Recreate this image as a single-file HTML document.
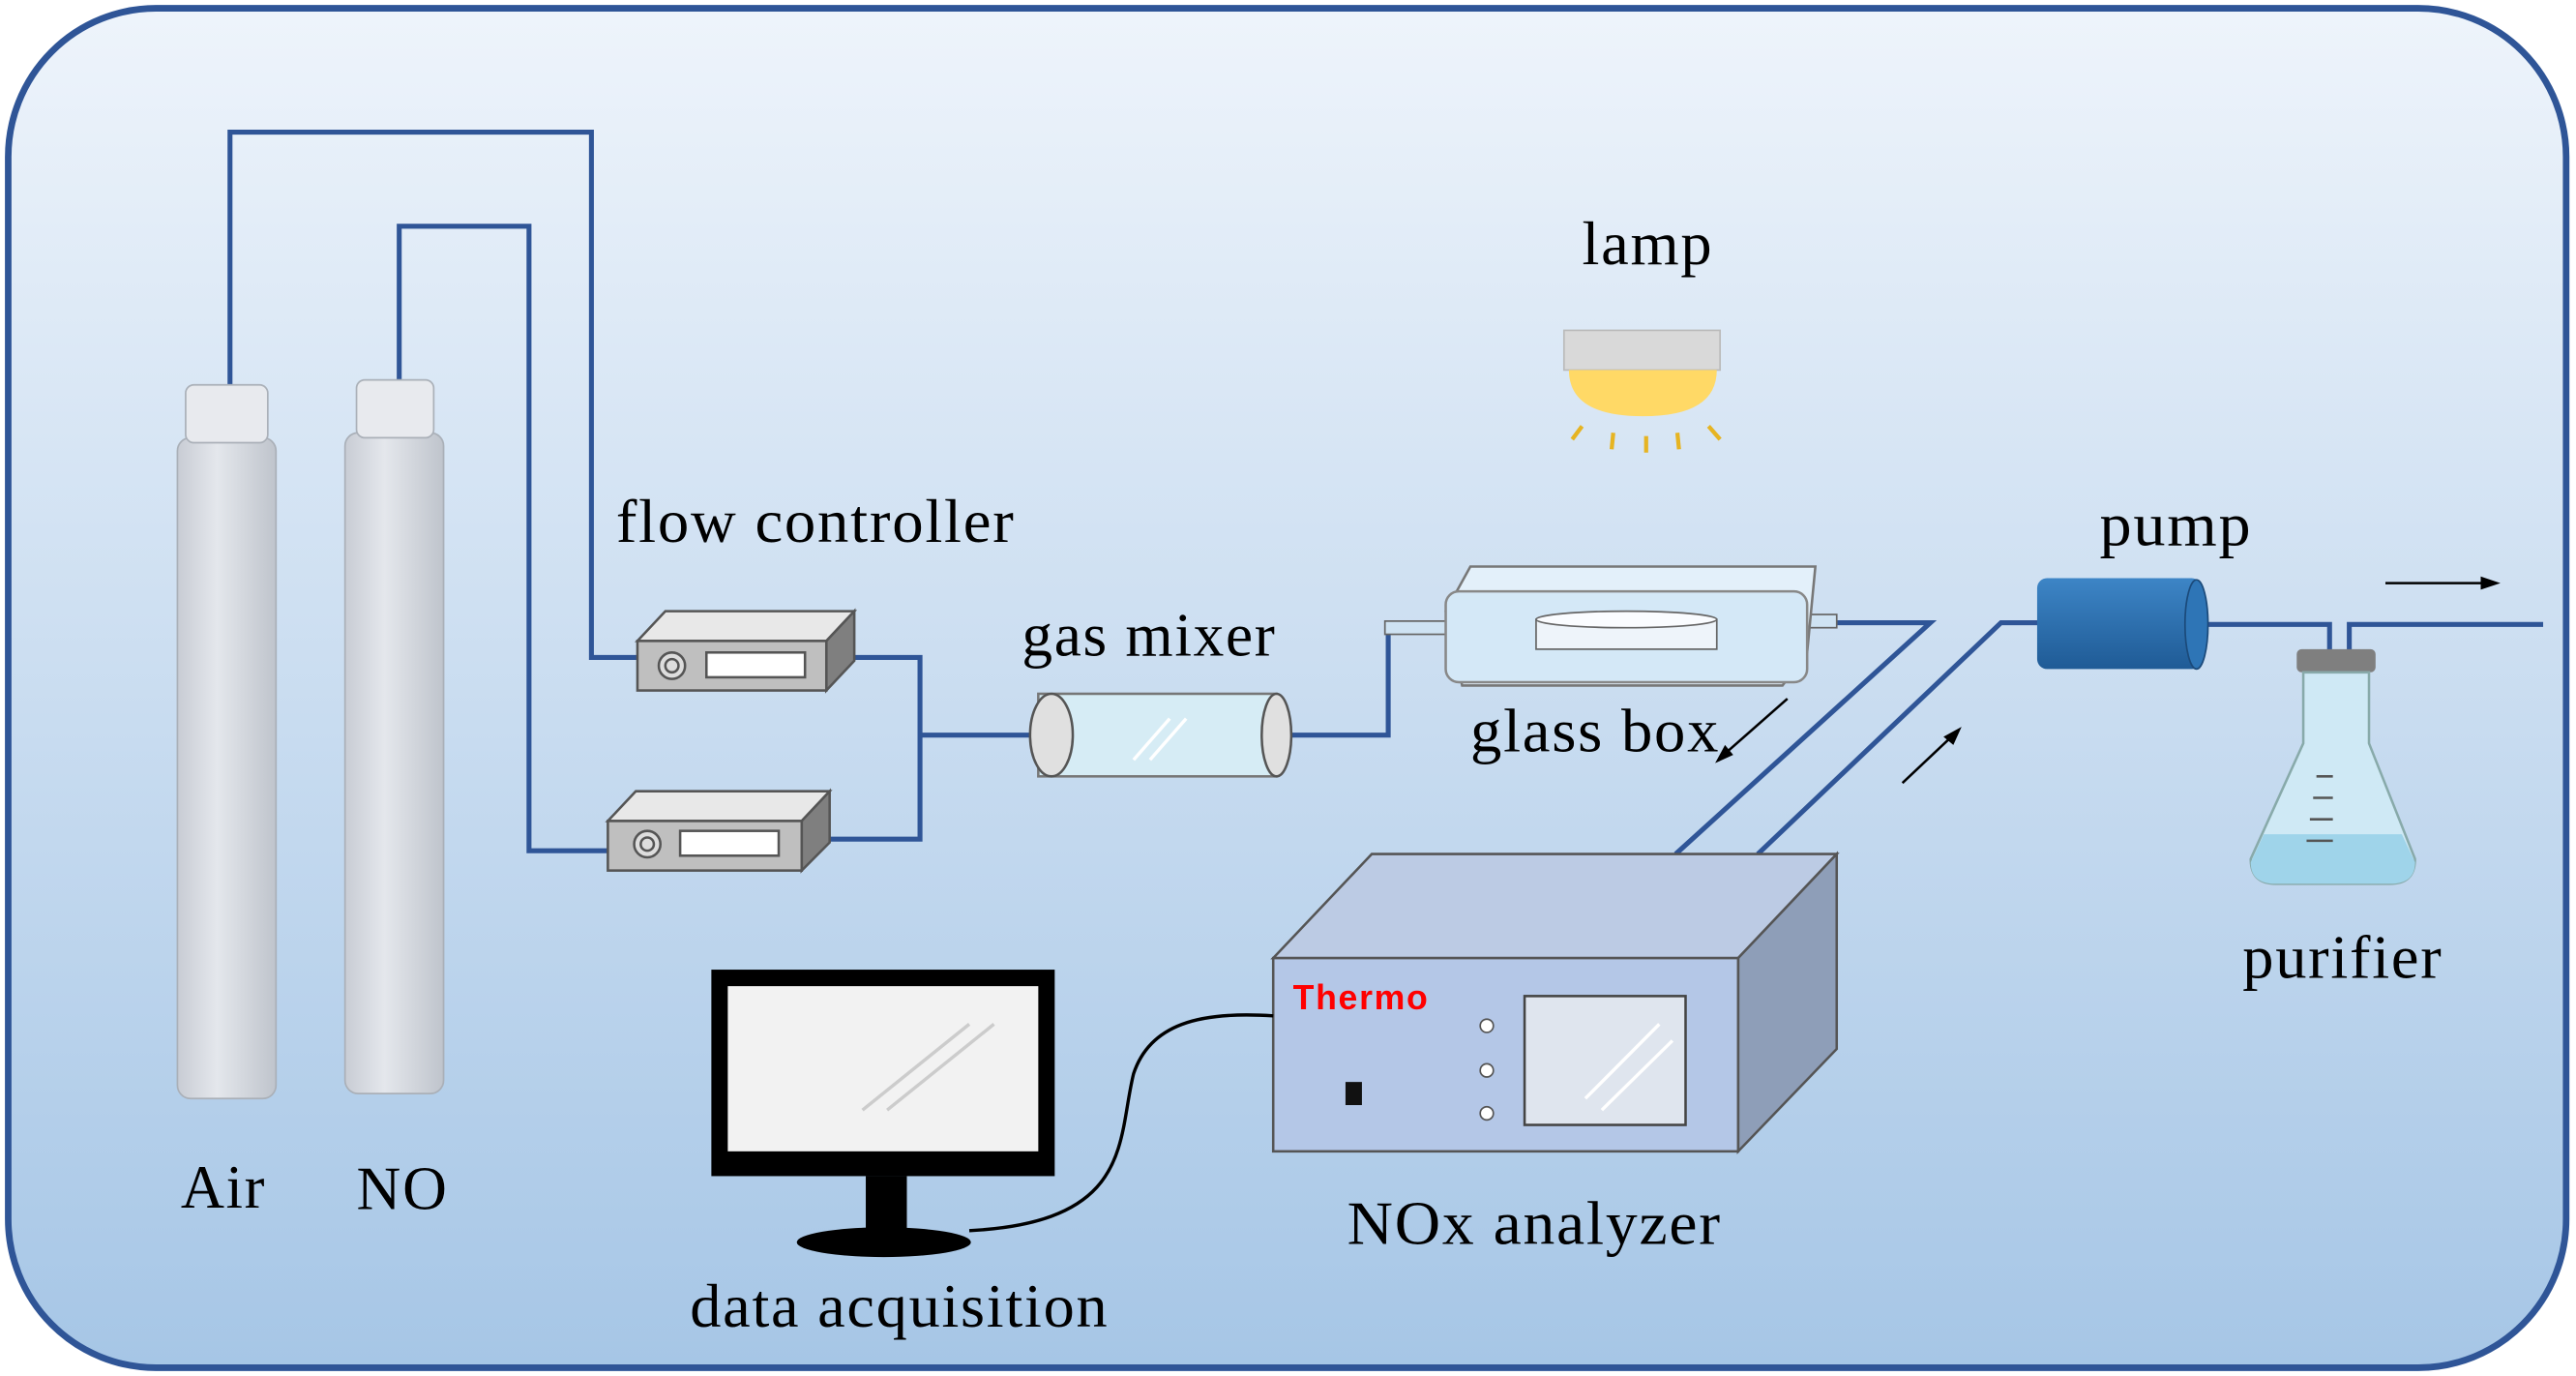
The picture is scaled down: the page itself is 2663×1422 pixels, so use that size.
<!DOCTYPE html>
<html><head><meta charset="utf-8"><style>
html,body{margin:0;padding:0;background:#fff;}
svg{display:block;}
text{font-family:"Liberation Serif",serif;fill:#000;}
</style></head><body>
<svg width="2663" height="1422" viewBox="0 0 1568 833" preserveAspectRatio="none" xmlns="http://www.w3.org/2000/svg">
<defs>
<linearGradient id="bg" x1="0" y1="0" x2="0" y2="1"><stop offset="0" stop-color="#eef4fb"/><stop offset="1" stop-color="#a6c6e6"/></linearGradient>
<linearGradient id="cyl" x1="0" y1="0" x2="1" y2="0"><stop offset="0" stop-color="#c8ccd4"/><stop offset="0.4" stop-color="#e4e7ec"/><stop offset="1" stop-color="#bfc4cc"/></linearGradient>
<linearGradient id="pump" x1="0" y1="0" x2="0" y2="1"><stop offset="0" stop-color="#3d85c6"/><stop offset="1" stop-color="#1f5b96"/></linearGradient>
</defs>
<rect x="5" y="5" width="1557" height="823" rx="90" fill="url(#bg)" stroke="#2f5597" stroke-width="4"/>
<g fill="none" stroke="#2f5597" stroke-width="3">
<polyline points="140,235 140,80 360,80 360,398 388,398"/>
<polyline points="243,232 243,137 322,137 322,515 372,515"/>
<polyline points="512,398 560,398 560,508 505,508"/>
<polyline points="560,445 628,445"/>
<polyline points="783,445 845,445 845,380 880,380"/>
<polyline points="1105,377 1175,377 1020,517"/>
<polyline points="1070,517 1218,377 1242,377"/>
<polyline points="1343,378 1418,378 1418,395"/>
<polyline points="1430,395 1430,378 1548,378"/>
</g>
<rect x="108" y="265" width="60" height="400" rx="8" fill="url(#cyl)" stroke="#aab0b8"/>
<rect x="113" y="233" width="50" height="35" rx="5" fill="#e8eaee" stroke="#aab0b8"/>
<rect x="210" y="262" width="60" height="400" rx="8" fill="url(#cyl)" stroke="#aab0b8"/>
<rect x="217" y="230" width="47" height="35" rx="5" fill="#e8eaee" stroke="#aab0b8"/>
<g stroke="#555" stroke-width="1.5">
<polygon points="388,388 405,370 520,370 503,388" fill="#e8e8e8"/>
<polygon points="503,388 520,370 520,400 503,418" fill="#7f7f7f"/>
<rect x="388" y="388" width="115" height="30" fill="#bfbfbf"/>
<rect x="430" y="395" width="60" height="15" fill="#fff"/>
<circle cx="409" cy="403" r="8" fill="#ddd"/><circle cx="409" cy="403" r="4" fill="#ddd"/>
<polygon points="370,497 387,479 505,479 488,497" fill="#e8e8e8"/>
<polygon points="488,497 505,479 505,510 488,527" fill="#7f7f7f"/>
<rect x="370" y="497" width="118" height="30" fill="#bfbfbf"/>
<rect x="414" y="503" width="60" height="15" fill="#fff"/>
<circle cx="394" cy="511" r="8" fill="#ddd"/><circle cx="394" cy="511" r="4" fill="#ddd"/>
</g>
<rect x="632" y="420" width="145" height="50" fill="#d6ecf5" stroke="#777" stroke-width="1.5"/>
<ellipse cx="640" cy="445" rx="13" ry="25" fill="#e0e0e0" stroke="#555" stroke-width="1.5"/>
<ellipse cx="777" cy="445" rx="9" ry="25" fill="#e0e0e0" stroke="#555" stroke-width="1.5"/>
<line x1="690" y1="460" x2="712" y2="435" stroke="#fff" stroke-width="2"/><line x1="700" y1="460" x2="722" y2="435" stroke="#fff" stroke-width="2"/>
<rect x="843" y="376" width="38" height="8" fill="#cfe3f3" stroke="#666"/>
<rect x="1100" y="372" width="18" height="8" fill="#cfe3f3" stroke="#666"/>
<polygon points="880,370 895,343 1105,343 1100,395 1085,415 890,415" fill="#e3f0fa" stroke="#777" stroke-width="1.5"/>
<rect x="880" y="358" width="220" height="55" rx="8" fill="#d4e8f7" stroke="#888" stroke-width="1.5"/>
<rect x="935" y="375" width="110" height="18" fill="#eef4fa" stroke="#666"/>
<ellipse cx="990" cy="375" rx="55" ry="5" fill="#fafcff" stroke="#666"/>
<rect x="952" y="200" width="95" height="24" fill="#d9d9d9" stroke="#bbb"/>
<path d="M955,224 L1045,224 Q1045,252 1000,252 Q955,252 955,224 Z" fill="#ffd966"/>
<g stroke="#e6b422" stroke-width="2.5"><line x1="963" y1="258" x2="957" y2="266"/><line x1="982" y1="262" x2="981" y2="272"/><line x1="1002" y1="264" x2="1002" y2="274"/><line x1="1021" y1="262" x2="1022" y2="272"/><line x1="1040" y1="258" x2="1047" y2="266"/></g>
<rect x="1240" y="350" width="100" height="55" rx="6" fill="url(#pump)"/>
<ellipse cx="1337" cy="378" rx="7" ry="27" fill="#2e75b6" stroke="#1b4a7a"/>
<rect x="1398" y="393" width="48" height="14" rx="3" fill="#7f7f7f"/>
<path d="M1402,407 L1442,407 L1442,450 L1470,520 Q1470,535 1455,535 L1385,535 Q1370,535 1370,520 L1402,450 Z" fill="#cfe9f5" stroke="#8aa" stroke-width="1.5"/>
<path d="M1378,505 L1462,505 L1470,522 Q1470,535 1455,535 L1385,535 Q1370,535 1370,522 Z" fill="#9fd4ea"/>
<g stroke="#555" stroke-width="1.5"><line x1="1410" y1="470" x2="1420" y2="470"/><line x1="1408" y1="483" x2="1420" y2="483"/><line x1="1406" y1="496" x2="1420" y2="496"/><line x1="1404" y1="509" x2="1420" y2="509"/></g>
<g stroke="#000" stroke-width="1.5"><line x1="1452" y1="353" x2="1515" y2="353"/><line x1="1088" y1="423" x2="1048" y2="458"/><line x1="1158" y1="474" x2="1190" y2="444"/></g>
<polygon points="1522,353 1510,349 1510,357" fill="#000"/>
<polygon points="1044,462 1050,451 1055,457" fill="#000"/>
<polygon points="1194,440 1183,446 1189,451" fill="#000"/>
<polygon points="775,580 835,517 1118,517 1058,580" fill="#bccbe4" stroke="#555" stroke-width="1.5"/>
<polygon points="1058,580 1118,517 1118,635 1058,697" fill="#8e9eb8" stroke="#555" stroke-width="1.5"/>
<rect x="775" y="580" width="283" height="117" fill="#b4c7e7" stroke="#555" stroke-width="1.5"/>
<rect x="928" y="603" width="98" height="78" fill="#dfe5ee" stroke="#444" stroke-width="1.5"/>
<line x1="965" y1="665" x2="1010" y2="620" stroke="#fff" stroke-width="2"/><line x1="975" y1="672" x2="1018" y2="630" stroke="#fff" stroke-width="2"/>
<g fill="#fff" stroke="#555"><circle cx="905" cy="621" r="4"/><circle cx="905" cy="648" r="4"/><circle cx="905" cy="674" r="4"/></g>
<rect x="819" y="655" width="10" height="14" fill="#111"/>
<text x="787" y="611" style="font-family:'Liberation Sans',sans-serif;font-weight:bold;font-size:21px;fill:#ff0000;letter-spacing:1px">Thermo</text>
<rect x="433" y="587" width="209" height="125" fill="#000"/>
<rect x="443" y="597" width="189" height="100" fill="#f2f2f2"/>
<line x1="525" y1="672" x2="590" y2="620" stroke="#ccc" stroke-width="2"/><line x1="540" y1="672" x2="605" y2="620" stroke="#ccc" stroke-width="2"/>
<rect x="527" y="712" width="25" height="35" fill="#000"/>
<ellipse cx="538" cy="752" rx="53" ry="9" fill="#000"/>
<path d="M775,615 C730,612 700,620 690,650 C680,690 690,740 590,745" fill="none" stroke="#000" stroke-width="2"/>
<g font-size="37" style="letter-spacing:1px">
<text x="375" y="328" textLength="243" lengthAdjust="spacingAndGlyphs">flow controller</text>
<text x="110" y="731" textLength="52" lengthAdjust="spacingAndGlyphs">Air</text>
<text x="217" y="732" textLength="56" lengthAdjust="spacingAndGlyphs">NO</text>
<text x="963" y="160" textLength="80" lengthAdjust="spacingAndGlyphs">lamp</text>
<text x="622" y="397" textLength="155" lengthAdjust="spacingAndGlyphs">gas mixer</text>
<text x="895" y="455" textLength="152" lengthAdjust="spacingAndGlyphs">glass box</text>
<text x="1278" y="330" textLength="93" lengthAdjust="spacingAndGlyphs">pump</text>
<text x="1365" y="592" textLength="122" lengthAdjust="spacingAndGlyphs">purifier</text>
<text x="820" y="753" textLength="228" lengthAdjust="spacingAndGlyphs">NOx analyzer</text>
<text x="420" y="803" textLength="255" lengthAdjust="spacingAndGlyphs">data acquisition</text>
</g>
</svg>
</body></html>
